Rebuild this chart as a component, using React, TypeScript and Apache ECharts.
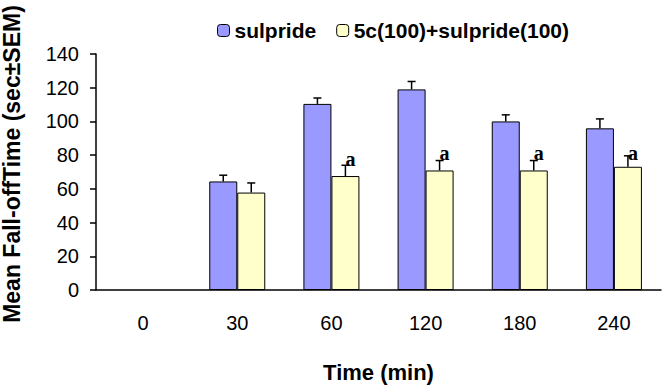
import React, { useEffect, useRef } from "react";
import * as echarts from "echarts";

const categories = ["0", "30", "60", "120", "180", "240"];
const sulpride = [null, 64.4, 110.4, 119, 100, 95.9];
const sulprideSem = [null, 3.7, 3.5, 4.7, 3.9, 5.6];
const combo = [null, 57.8, 67.6, 70.9, 70.9, 73.1];
const comboSem = [null, 5.7, 6.4, 5.9, 5.9, 6.5];
const comboMarks = [null, null, "a", "a", "a", "a"];
const comboMarkY = [null, null, 78, 81.5, 81.5, 81.5];
const yTicks = { min: 0, max: 140, interval: 20 };

const FONT = "'Liberation Sans', Arial, sans-serif";
const BAR_W = 28;

export default function App() {
  const ref = useRef<HTMLDivElement>(null);
  useEffect(() => {
    if (!ref.current) return;
    const chart = echarts.init(ref.current, null, { renderer: "svg" });

    const errSeries = (vals: any[], sems: any[], offset: number, name: string) => ({
      type: "custom",
      name,
      silent: true,
      z: 5,
      data: vals.map((v, i) => (v == null ? null : [i, v, sems[i]])).filter((d) => d),
      renderItem: (params: any, api: any) => {
        const i = api.value(0);
        const v = api.value(1);
        const s = api.value(2);
        const p0 = api.coord([i, v]);
        const p1 = api.coord([i, v + s]);
        const x = p0[0] + offset;
        return {
          type: "group",
          children: [
            { type: "line", shape: { x1: x, y1: p0[1], x2: x, y2: p1[1] }, style: { stroke: "#000", lineWidth: 1.5 } },
            { type: "line", shape: { x1: x - 4, y1: p1[1], x2: x + 4, y2: p1[1] }, style: { stroke: "#000", lineWidth: 1.5 } },
          ],
        };
      },
    });

    chart.setOption({
      animation: false,
      backgroundColor: "#fff",
      legend: {
        left: 212,
        top: 15,
        itemWidth: 12,
        itemHeight: 12,
        itemGap: 20,
        itemStyle: { borderColor: "#000", borderWidth: 1 },
        textStyle: { fontFamily: FONT, fontSize: 21, fontWeight: "bold", color: "#000" },
        data: ["sulpride", "5c(100)+sulpride(100)"],
      },
      grid: { left: 96, right: 1, top: 54, bottom: 82 },
      xAxis: {
        type: "category",
        data: categories,
        axisLine: { lineStyle: { color: "#000", width: 1.5 } },
        axisTick: { length: 7, lineStyle: { color: "#000", width: 1.5 } },
        axisLabel: { margin: 23, fontFamily: FONT, fontSize: 20, color: "#000" },
        name: "Time (min)",
        nameLocation: "middle",
        nameGap: 71,
        nameTextStyle: { fontFamily: FONT, fontSize: 22, fontWeight: "bold", color: "#000" },
      },
      yAxis: {
        type: "value",
        min: yTicks.min,
        max: yTicks.max,
        interval: yTicks.interval,
        splitLine: { show: false },
        axisLine: { show: true, lineStyle: { color: "#000", width: 1.5 } },
        axisTick: { show: true, length: 6, lineStyle: { color: "#000", width: 1.5 } },
        axisLabel: { margin: 17, fontFamily: FONT, fontSize: 20, color: "#000" },
      },
      graphic: [
        {
          type: "text",
          x: 12,
          y: 164,
          rotation: Math.PI / 2,
          style: {
            text: "Mean Fall-offTime (sec±SEM)",
            fontFamily: FONT,
            fontSize: 23,
            fontWeight: "bold",
            fill: "#000",
            align: "center",
            verticalAlign: "middle",
          },
        },
      ],
      series: [
        {
          name: "sulpride",
          type: "bar",
          barWidth: BAR_W,
          barGap: "0%",
          data: sulpride.map((v) => (v == null ? "-" : v)),
          itemStyle: { color: "#9999FF", borderColor: "#000", borderWidth: 1 },
        },
        {
          name: "5c(100)+sulpride(100)",
          type: "bar",
          barWidth: BAR_W,
          barGap: "0%",
          data: combo.map((v) => (v == null ? "-" : v)),
          itemStyle: { color: "#FFFFCC", borderColor: "#000", borderWidth: 1 },
        },
        errSeries(sulpride, sulprideSem, -BAR_W / 2, "errA"),
        errSeries(combo, comboSem, BAR_W / 2, "errB"),
        {
          type: "custom",
          name: "marks",
          silent: true,
          z: 6,
          data: comboMarks.map((m, i) => (m == null ? null : [i, comboMarkY[i], m])).filter((d) => d),
          renderItem: (params: any, api: any) => {
            const i = api.value(0);
            const y = api.value(1);
            const p = api.coord([i, y]);
            return {
              type: "text",
              x: p[0] + BAR_W / 2 + 5,
              y: p[1],
              style: {
                text: comboMarks[i] as string,
                fontFamily: "'Liberation Serif', 'Times New Roman', serif",
                fontSize: 20,
                fontWeight: "bold",
                fill: "#000",
                align: "center",
                verticalAlign: "middle",
              },
            };
          },
        },
      ],
    });
    return () => chart.dispose();
  }, []);
  return <div ref={ref} style={{ position: "fixed", left: 0, top: 0, width: 662, height: 388 }} />;
}
